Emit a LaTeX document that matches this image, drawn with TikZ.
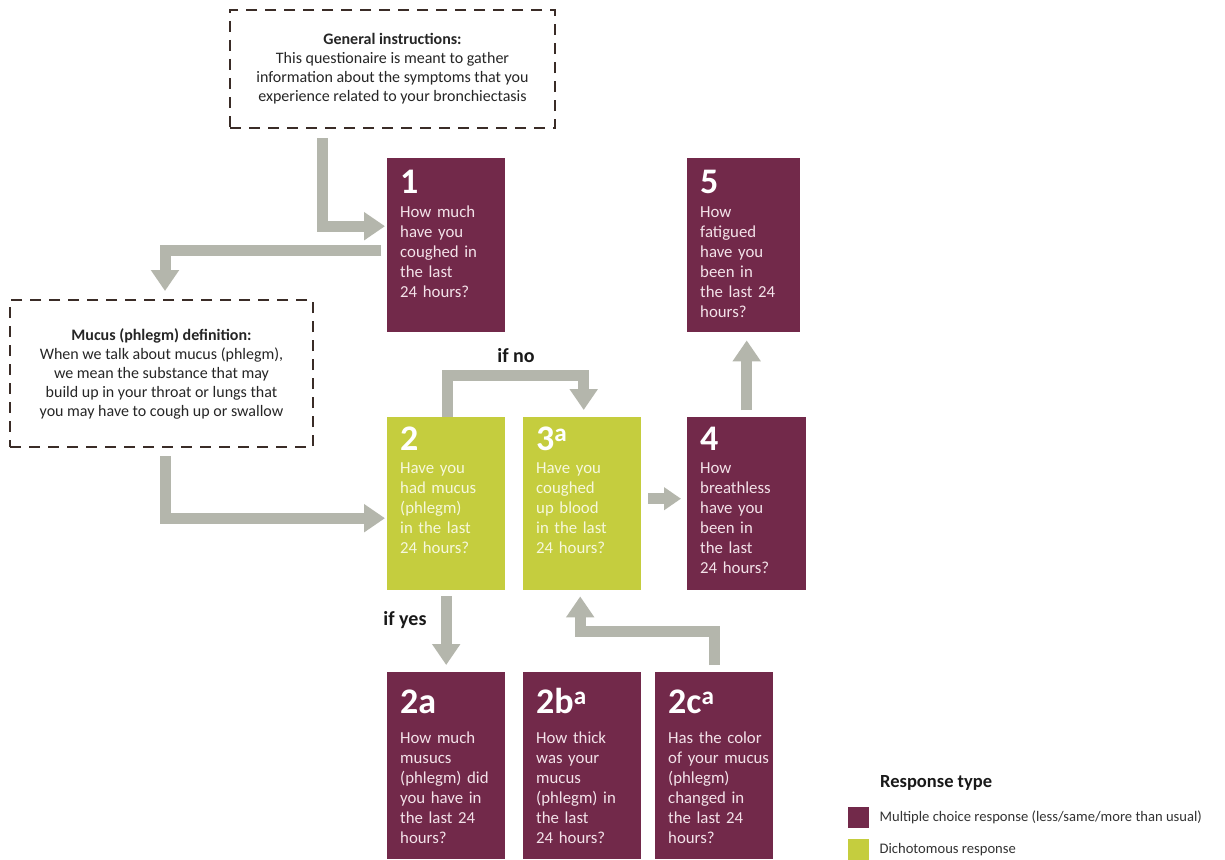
\documentclass[tikz,border=0pt]{standalone}
\usepackage{fontspec}
\setmainfont{Carlito}
\usetikzlibrary{arrows.meta}
\definecolor{qpurple}{HTML}{72294A}
\definecolor{qgreen}{HTML}{C5CD3E}
\definecolor{qpurpletext}{HTML}{F3E2E9}
\definecolor{qgreentext}{HTML}{F6F8DC}
\definecolor{arrowgray}{HTML}{B4B6AC}
\definecolor{dashbrown}{HTML}{3A2C27}
\newcommand{\qno}[1]{{\fontsize{36}{36}\selectfont\bfseries\color{white}#1}}

\begin{document}
\begin{tikzpicture}[x=1pt,y=-1pt,
  qbox/.style={anchor=north west,inner xsep=13pt,inner ysep=0pt,align=left,text width=#1,font=\fontsize{16.8}{20}\selectfont},
  qbox/.default=92pt,
  multi/.style={qbox=#1,fill=qpurple,text=qpurpletext},
  multi/.default=92pt,
  dicho/.style={qbox,fill=qgreen,text=qgreentext},
  rowtop/.style={text height=35pt,text depth=139pt},
  rowmid/.style={text height=33pt,text depth=140pt},
  rowlow/.style={text height=41pt,text depth=146pt},
  infobox/.style={draw=dashbrown,line width=2pt,dash pattern=on 11pt off 8pt,align=center,text=black!85,font=\fontsize{16}{19}\selectfont},
  flow/.style={draw=arrowgray,line width=11pt,-{Triangle[length=21pt,width=27pt]}},
  lbl/.style={font=\fontsize{20}{20}\selectfont\bfseries,text=black!90}
]
\fill[white] (0,0) rectangle (1225,859);
\useasboundingbox (0,0) rectangle (1225,859);

% info boxes
\node[infobox,minimum width=325pt,minimum height=118pt] (gen) at (392.5,69)
  {\textbf{General instructions:}\\ This questionaire is meant to gather\\ information about the symptoms that you\\ experience related to your bronchiectasis};
\node[infobox,minimum width=303pt,minimum height=147pt] (muc) at (161.5,373.5)
  {\textbf{Mucus (phlegm) definition:}\\ When we talk about mucus (phlegm),\\ we mean the substance that may\\ build up in your throat or lungs that\\ you may have to cough up or swallow};

% questions
\node[multi,rowtop] (q1) at (387,158) {\qno{1}\\[4pt] How much\\ have you\\ coughed in\\ the last\\ 24 hours?};
\node[multi=87pt,rowtop] (q5) at (687,158) {\qno{5}\\[4pt] How\\ fatigued\\ have you\\ been in\\ the last 24\\ hours?};
\node[dicho,rowmid] (q2) at (387,417) {\qno{2}\\[3pt] Have you\\ had mucus\\ (phlegm)\\ in the last\\ 24 hours?};
\node[dicho,rowmid] (q3) at (523,417) {\qno{3\textsuperscript{a}}\\[3pt] Have you\\ coughed\\ up blood\\ in the last\\ 24 hours?};
\node[multi=93pt,rowmid] (q4) at (687,417) {\qno{4}\\[3pt] How\\ breathless\\ have you\\ been in\\ the last\\ 24 hours?};
\node[multi,rowlow] (q2a) at (387,672) {\qno{2a}\\[10pt] How much\\ musucs\\ (phlegm) did\\ you have in\\ the last 24\\ hours?};
\node[multi,rowlow] (q2b) at (523,672) {\qno{2b\textsuperscript{a}}\\[10pt] How thick\\ was your\\ mucus\\ (phlegm) in\\ the last\\ 24 hours?};
\node[multi,rowlow] (q2c) at (655,672) {\qno{2c\textsuperscript{a}}\\[10pt] \mbox{Has the color}\\ \mbox{of your mucus}\\ (phlegm)\\ changed in\\ the last 24\\ hours?};

% connectors
\draw[flow] ([xshift=-70.5pt,yshift=-9pt]gen.south) |- ([xshift=-2pt,yshift=19pt]q1.west);
\draw[flow] ([xshift=-6pt,yshift=-5pt]q1.west) -| ([xshift=3.5pt,yshift=8pt]muc.north);
\draw[flow] ([xshift=3.5pt,yshift=-8pt]muc.south) |- ([xshift=-2pt,yshift=-14.5pt]q2.west);
\draw[flow] ([xshift=1pt]q2.north) -- ++(0pt,42pt) -| ([xshift=1.5pt,yshift=7pt]q3.north);
\draw[flow,-{Triangle[length=17pt,width=22pt]}] ([xshift=7pt,yshift=5pt]q3.east) -- ([xshift=-6pt,yshift=5pt]q4.west);
\draw[flow] ([yshift=7pt]q4.north) -- ([yshift=-8pt]q4.north |- q5.south);
\draw[flow] ([yshift=-6pt]q2.south) -- ([yshift=7pt]q2a.north);
\draw[flow] ([yshift=7pt]q2c.north) -- ++(0pt,34pt) -| ([xshift=-2pt,yshift=-6pt]q3.south);
\node[lbl] (ifno) at (516,356) {if no};
\node[lbl] (ifyes) at (405,620) {if yes};

% legend
\node[anchor=west,inner sep=0pt,font=\fontsize{18.5}{20}\selectfont\bfseries,text=black!90] (legtitle) at (880,783) {Response type};
\node[fill=qpurple,minimum size=21pt,inner sep=0pt,anchor=north west] (legmulti) at (848,807) {};
\node[fill=qgreen,minimum size=21pt,inner sep=0pt,anchor=north west] (legdicho) at (848,839) {};
\node[anchor=west,inner sep=0pt,font=\fontsize{14.6}{16}\selectfont,text=black!80] (legmultitxt) at ([xshift=10pt]legmulti.east) {Multiple choice response (less/same/more than usual)};
\node[anchor=west,inner sep=0pt,font=\fontsize{14.6}{16}\selectfont,text=black!80] (legdichotxt) at ([xshift=10pt]legdicho.east) {Dichotomous response};
\end{tikzpicture}
\end{document}
